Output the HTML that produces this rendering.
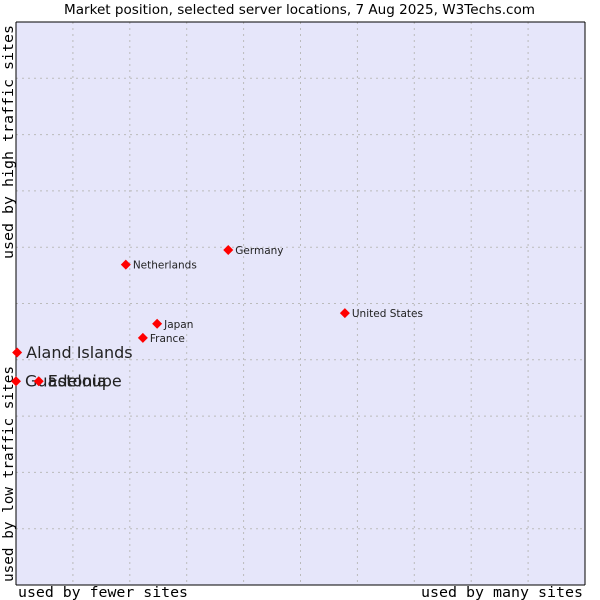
<!DOCTYPE html>
<html><head><meta charset="utf-8"><style>
body{margin:0;background:#fff;}
svg{display:block;}
</style></head><body>
<svg id="chart" width="600" height="600" xmlns="http://www.w3.org/2000/svg">
<text x="64" y="14" textLength="471" lengthAdjust="spacingAndGlyphs" font-family="DejaVu Sans, sans-serif" font-size="13" fill="#000">Market position, selected server locations, 7 Aug 2025, W3Techs.com</text>
<rect x="16" y="22" width="569" height="563" fill="#e6e6fa"/>
<g id="grid"></g>
<line x1="16" y1="22" x2="16" y2="585" stroke="#000"/>
<line x1="16" y1="585" x2="585" y2="585" stroke="#000"/>
<line x1="585" y1="22" x2="585" y2="585" stroke="#000"/>
<line x1="16" y1="22" x2="585" y2="22" stroke="#000"/>
<text x="18" y="597" textLength="170" lengthAdjust="spacingAndGlyphs" font-family="DejaVu Sans Mono, monospace" font-size="14.5">used by fewer sites</text>
<text x="421" y="597" textLength="162" lengthAdjust="spacingAndGlyphs" font-family="DejaVu Sans Mono, monospace" font-size="14.5">used by many sites</text>
<text transform="translate(13,259) rotate(-90)" textLength="234" lengthAdjust="spacingAndGlyphs" font-family="DejaVu Sans Mono, monospace" font-size="14.5">used by high traffic sites</text>
<text transform="translate(13,582) rotate(-90)" textLength="216" lengthAdjust="spacingAndGlyphs" font-family="DejaVu Sans Mono, monospace" font-size="14.5">used by low traffic sites</text>
<g id="points"></g>
</svg>
<script>
const names=["Aland Islands","Guadeloupe","Estonia","Netherlands","Japan","France","Germany","United States"];
const xVals=[0.2,0,4.0,19.3,24.8,22.3,37.3,57.8];
const yVals=[41.3,36.2,36.2,56.9,46.4,43.9,59.5,48.3];
const bigLabel=[true,true,true,false,false,false,false,false];
const NS="http://www.w3.org/2000/svg";
const L=16,R=585,T=22,B=585;
function xs(v){return L+v/100*(R-L);}
function ys(v){return B-v/100*(B-T);}
const grid=document.getElementById('grid');
for(let i=1;i<10;i++){
 const v=document.createElementNS(NS,'line');
 const gx=xs(i*10);
 v.setAttribute('x1',gx);v.setAttribute('x2',gx);v.setAttribute('y1',T);v.setAttribute('y2',B);
 v.setAttribute('stroke','#bbb');v.setAttribute('stroke-dasharray','2,4');
 
 
 grid.appendChild(v);
 const h=document.createElementNS(NS,'line');
 const gy=ys(i*10);
 h.setAttribute('x1',L);h.setAttribute('x2',R);h.setAttribute('y1',gy);h.setAttribute('y2',gy);
 h.setAttribute('stroke','#bbb');h.setAttribute('stroke-dasharray','2,4');
 
 
 grid.appendChild(h);
}
const pts=document.getElementById('points');
names.forEach((n,i)=>{
 const px=xs(xVals[i]),py=ys(yVals[i]);
 const r=5;
 const d=document.createElementNS(NS,'polygon');
 d.setAttribute('points',`${px},${py-r} ${px+r},${py} ${px},${py+r} ${px-r},${py}`);
 d.setAttribute('fill','#ff0000');
 
 
 pts.appendChild(d);
 const t=document.createElementNS(NS,'text');
 const big=bigLabel[i];
 t.setAttribute('x',px+(big?9:7));
 t.setAttribute('y',py+(big?5.5:4));
 t.setAttribute('font-family','DejaVu Sans, sans-serif');
 t.setAttribute('font-size',big?16:10.5);
 t.setAttribute('fill','#222');
 t.textContent=n;
 
 
 pts.appendChild(t);
});
</script>
</body></html>
